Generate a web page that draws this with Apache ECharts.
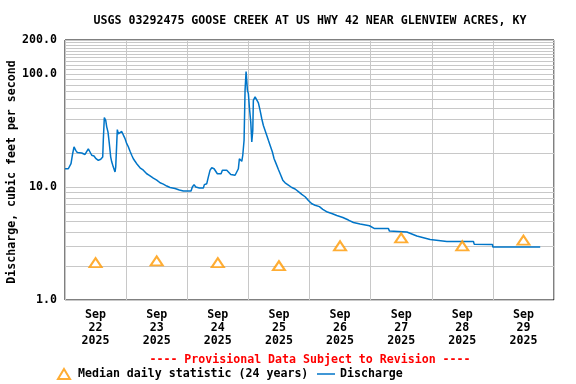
<!DOCTYPE html>
<html>
<head>
<meta charset="utf-8">
<script src="https://cdn.jsdelivr.net/npm/echarts@6/dist/echarts.min.js"></script>
<style>html,body{margin:0;padding:0;background:#fff}#c{width:576px;height:384px}</style>
</head>
<body>
<div id="c"></div>
<script>
var titleText = 'USGS 03292475 GOOSE CREEK AT US HWY 42 NEAR GLENVIEW ACRES, KY';
var footerText = '---- Provisional Data Subject to Revision ----';
var yAxisName = 'Discharge, cubic feet per second';
var dayLabels = ['Sep\n22\n2025','Sep\n23\n2025','Sep\n24\n2025','Sep\n25\n2025','Sep\n26\n2025','Sep\n27\n2025','Sep\n28\n2025','Sep\n29\n2025'];
var medianValues = [2.14, 2.22, 2.14, 2.01, 3.02, 3.55, 3.02, 3.39];
var medianName = 'Median daily statistic (24 years)';
var dischargeName = 'Discharge';
// hours since Sep 22 00:00
var dischargeHours = [0,1.3,2.36,3.02,3.54,4.2,4.83,6.56,6.8,7.86,8.25,9.15,9.82,10.49,11.39,12.18,13.08,14.02,14.81,15.04,15.44,15.99,16.38,16.89,17.4,17.95,18.34,18.97,19.64,19.91,20.31,20.54,20.94,21.6,22.27,22.9,23.57,24.24,24.86,25.53,26.2,26.83,27.5,28.4,29.46,30.76,32.09,33.11,34.68,36.02,37.32,38.61,39.95,41.24,43.21,44.9,46.47,49.49,50.0,50.67,51.34,52.75,54.32,54.72,55.66,56.29,56.96,57.62,58.53,59.31,59.82,60.49,61.28,61.79,63.52,64.14,65.09,66.78,67.44,68.07,68.47,69.02,69.41,69.8,70.31,70.7,70.9,71.1,71.37,71.61,72.0,72.39,72.94,73.34,73.57,73.73,73.96,74.63,75.3,75.93,76.6,77.26,77.89,78.56,79.23,79.86,80.52,81.43,82.1,82.88,83.79,84.73,85.51,86.42,87.71,89.05,90.34,91.64,92.97,94.27,95.57,96.9,98.2,99.89,101.22,103.03,105.0,106.73,109.08,111.28,113.25,115.88,119.53,121.38,126.99,127.39,134.22,134.85,138.15,143.37,149.93,160.38,160.65,167.84,168.0,186.58];
var dischargeValues = [14.5,14.5,16.1,19.8,22.7,21.1,20.2,20.0,19.4,19.4,20.2,21.8,20.4,19.1,18.8,17.8,17.2,17.6,18.4,25.9,41.1,38.9,34.1,30.6,24.2,18.4,16.7,15.0,13.6,15.0,24.2,32.2,29.6,30.6,31.0,30.2,26.8,24.2,22.7,20.7,19.1,17.8,16.9,15.8,14.8,14.1,13.1,12.7,12.0,11.5,10.9,10.6,10.2,9.9,9.7,9.4,9.2,9.2,10.0,10.5,10.0,9.8,9.8,10.5,10.7,12.3,14.1,14.8,14.5,14.1,13.1,12.7,13.1,14.1,14.1,13.6,12.9,12.7,13.1,14.5,17.8,18.2,16.9,19.1,25.9,72,72,105,87,72,67,51,37.5,25,24.2,31.6,58.5,62.7,60.5,55.6,47.6,40.2,35.0,31.6,28.6,25.9,23.4,20.4,17.8,16.1,14.3,12.7,11.5,10.9,10.4,9.9,9.6,9.1,8.6,8.2,7.6,7.1,6.9,6.7,6.35,6.0,5.8,5.6,5.37,5.1,4.85,4.7,4.54,4.3,4.3,4.07,4.0,3.88,3.68,3.43,3.3,3.3,3.12,3.1,2.94,2.94];
var minorGrid = [2,3,4,5,6,7,8,9,20,30,40,50,60,70,80,90,110,120,130,140,150,160,170,180,190];

var FONT = 'DejaVu Sans Mono';
var FS = 11.6;
var chart = echarts.init(document.getElementById('c'), null, {renderer: 'canvas'});
var dischargeData = dischargeHours.map(function (h, i) { return [h, dischargeValues[i]]; });

chart.setOption({
  animation: false,
  backgroundColor: '#fff',
  textStyle: {fontFamily: FONT, fontWeight: 'bold', fontSize: FS, color: '#000'},
  title: [
    {text: titleText, left: 305, top: 10, textAlign: 'center',
     textStyle: {fontFamily: FONT, fontWeight: 'bold', fontSize: FS, color: '#000'}},
    {text: footerText, left: 305, top: 349, textAlign: 'center',
     textStyle: {fontFamily: FONT, fontWeight: 'bold', fontSize: FS, color: '#ff0000'}}
  ],
  graphic: [
    {type: 'text', x: 12, y: 172, rotation: Math.PI / 2, silent: true,
     style: {text: yAxisName, fill: '#000', align: 'center', verticalAlign: 'middle',
             font: 'bold ' + FS + 'px "' + FONT + '"'}}
  ],
  legend: [
    {data: [{name: medianName, icon: 'emptyTriangle'}], left: 57, top: 368, padding: 0, itemWidth: 12, itemHeight: 10, itemGap: 0,
     textStyle: {fontFamily: FONT, fontWeight: 'bold', fontSize: FS, color: '#000', padding: [0,0,0,3]}},
    {data: [{name: dischargeName, icon: 'rect'}], left: 317, top: 368, padding: 0, itemWidth: 18, itemHeight: 1.5, itemGap: 0,
     textStyle: {fontFamily: FONT, fontWeight: 'bold', fontSize: FS, color: '#000'}}
  ],
  grid: {left: 65, right: 22, top: 40, bottom: 84, show: true, borderColor: '#000', borderWidth: 1,
         backgroundColor: 'transparent', containLabel: false, outerBoundsMode: 'none'},
  xAxis: [
    {type: 'category', data: dayLabels, boundaryGap: true, position: 'bottom',
     axisLine: {show: false}, axisTick: {show: false},
     axisLabel: {fontFamily: FONT, fontWeight: 'bold', fontSize: FS, color: '#000', lineHeight: 13, margin: 8},
     splitLine: {show: true, lineStyle: {color: '#c8c8c8', width: 1}}},
    {type: 'value', min: 0, max: 192, show: false}
  ],
  yAxis: {
    type: 'log', logBase: 10, min: 1, max: 200,
    axisLine: {show: false}, axisTick: {show: false},
    axisLabel: {fontFamily: FONT, fontWeight: 'bold', fontSize: FS, color: '#000', margin: 8,
      formatter: function (v) { return (Math.round(v * 10) / 10).toFixed(1); }},
    splitLine: {show: true, lineStyle: {color: '#c8c8c8', width: 1}}
  },
  series: [
    {name: dischargeName, type: 'line', xAxisIndex: 1, yAxisIndex: 0, data: dischargeData,
     symbol: 'none', showSymbol: false, z: 3,
     lineStyle: {color: '#0075c8', width: 1.5}, itemStyle: {color: '#0075c8'},
     markLine: {silent: true, symbol: 'none', z: 1, animation: false,
       label: {show: false},
       lineStyle: {color: '#c8c8c8', width: 1, type: 'solid'},
       emphasis: {disabled: true},
       data: minorGrid.map(function (v) { return {yAxis: v}; })}},
    {name: medianName, type: 'scatter', xAxisIndex: 0, yAxisIndex: 0, data: medianValues,
     symbol: 'emptyTriangle', symbolSize: [12, 9], z: 4,
     itemStyle: {color: '#ff9900', borderColor: '#ff9900', borderWidth: 1.5}}
  ]
});
</script>
</body>
</html>
